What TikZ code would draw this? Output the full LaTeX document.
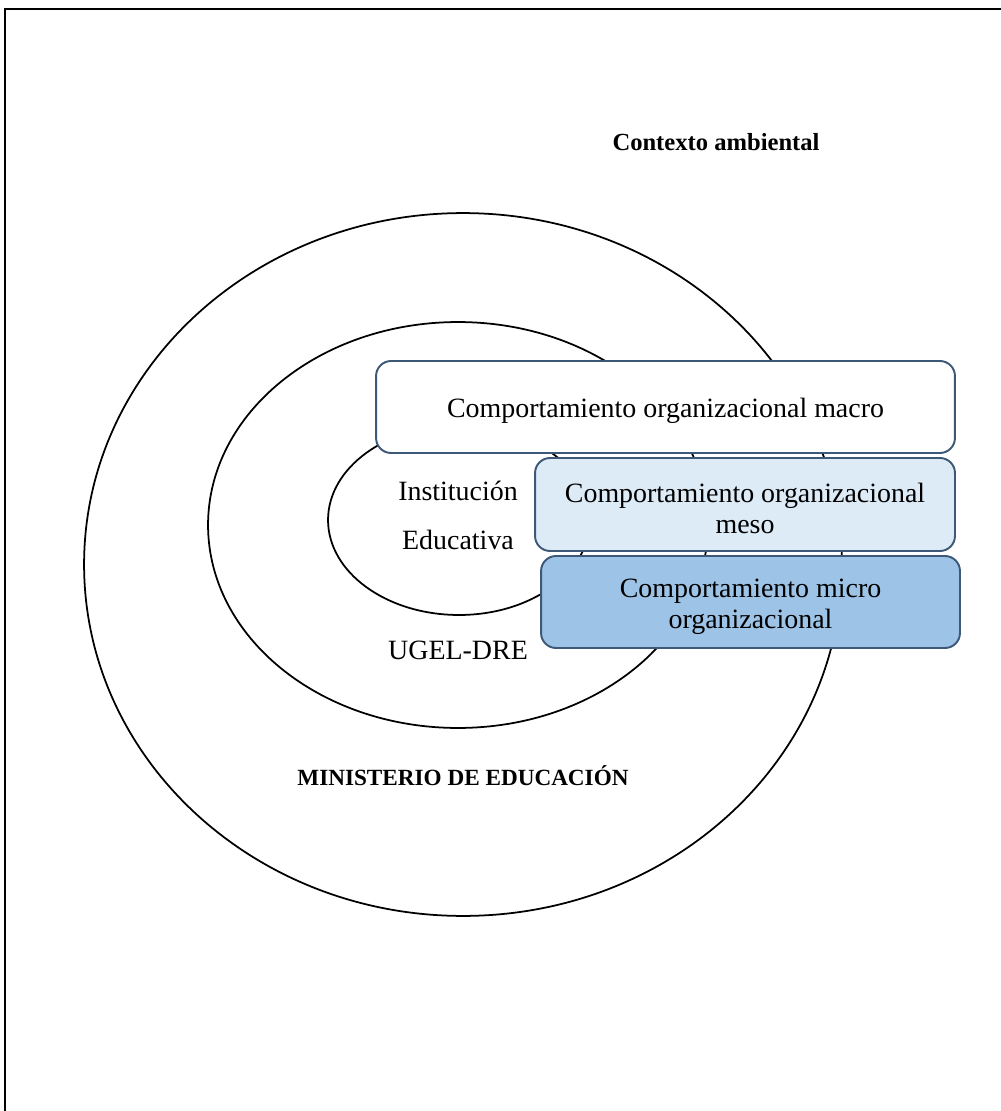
\documentclass[tikz,border=0pt]{standalone}
\usepackage{fontspec}
\setmainfont{Liberation Serif}
\usepackage{tikz}
\usetikzlibrary{positioning}
\definecolor{bordeazul}{RGB}{62,89,120}
\definecolor{azulclaro}{RGB}{221,235,247}
\definecolor{azulmedio}{RGB}{157,195,230}
\newcommand{\altolinea}{\rule{0pt}{15.5pt}}
\tikzset{
	x=0.02cm, y=-0.02cm,
	anillo/.style={draw, line width=1pt},
	bloque/.style={draw=bordeazul, line width=1.1pt, rounded corners=0.3cm, inner sep=0pt,
		align=center, font=\fontsize{15.9}{17.6}\selectfont},
	etiqueta/.style={align=center, font=\fontsize{15.9}{17.5}\selectfont},
	titulo/.style={font=\bfseries\fontsize{14}{16}\selectfont},
}

\begin{document}
\begin{tikzpicture}
		\useasboundingbox (0,0) rectangle (1000,1111);
		\draw[line width=1.2pt] (5,1130) -- (5,9) -- (1020,9);

		% niveles
		\draw[anillo] (463,564.5) ellipse [x radius=7.58cm, y radius=7.03cm];
		\draw[anillo] (458,525) ellipse [x radius=5cm, y radius=4.06cm];
		\draw[anillo] (459,520) ellipse [x radius=2.62cm, y radius=1.9cm];

		\node[titulo] (ctx) at (716,142) {Contexto ambiental};
		\node[etiqueta] (ie) at (458,515) {Institución\\[10.3pt]Educativa};
		\node[etiqueta] (ugel) at (458,650) {UGEL-DRE};
		\node[titulo, font=\bfseries\fontsize{13.2}{15}\selectfont] (minedu) at (463,776) {MINISTERIO DE EDUCACIÓN};

		% comportamiento
		\node[bloque, fill=white, minimum width=11.58cm, minimum height=1.84cm] (macro) at (665.5,407) {\altolinea Comportamiento organizacional macro};
		\node[bloque, fill=azulclaro, minimum width=8.4cm, minimum height=1.86cm] (meso) at (745,504.5) {\altolinea Comportamiento organizacional\\meso};
		\node[bloque, fill=azulmedio, minimum width=8.38cm, minimum height=1.84cm] (micro) at (750.5,602) {\altolinea Comportamiento micro\\organizacional};
	\end{tikzpicture}
\end{document}
